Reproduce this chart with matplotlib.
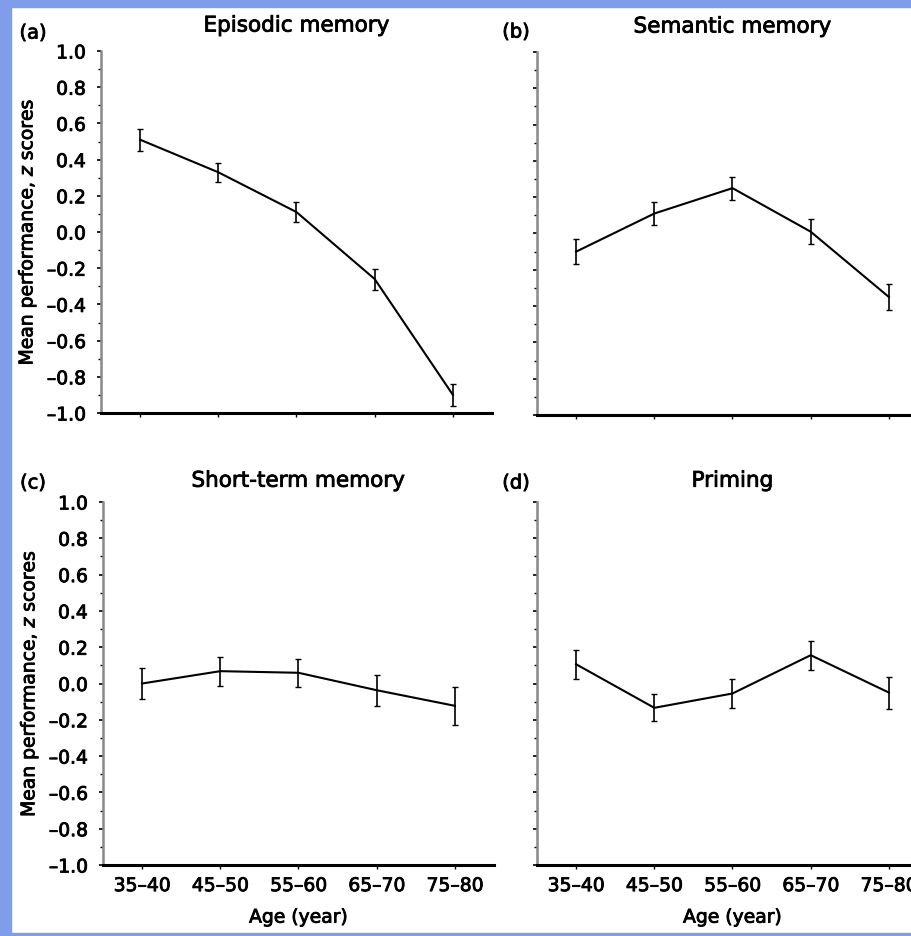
import matplotlib
matplotlib.use("Agg")
import matplotlib.pyplot as plt
import matplotlib.patheffects as pe
from matplotlib.patches import Rectangle
from matplotlib.ticker import MultipleLocator, FuncFormatter

age_groups = ["35–40", "45–50", "55–60", "65–70", "75–80"]

episodic_mean = [0.51, 0.33, 0.11, -0.26, -0.90]
episodic_err = [0.06, 0.053, 0.053, 0.058, 0.06]

semantic_mean = [-0.10, 0.11, 0.25, 0.01, -0.35]
semantic_err = [0.067, 0.062, 0.063, 0.07, 0.073]

shortterm_mean = [0.0, 0.068, 0.059, -0.037, -0.123]
shortterm_err = [0.083, 0.08, 0.078, 0.085, 0.105]

priming_mean = [0.106, -0.134, -0.055, 0.156, -0.05]
priming_err = [0.08, 0.075, 0.078, 0.08, 0.088]

panel_titles = ["Episodic memory", "Semantic memory", "Short-term memory", "Priming"]
panel_letters = ["(a)", "(b)", "(c)", "(d)"]

W, H = 912, 936
fig = plt.figure(figsize=(W / 100, H / 100), dpi=100)
fig.patch.set_facecolor("white")

thick = [pe.withStroke(linewidth=0.6, foreground="black")]

blue = "#7f9de8"
for (x, y, w, h) in [(0, 0, 11, H), (0, 0, W, 7), (0, H - 3, W, 3)]:
    fig.patches.append(Rectangle((x / W, 1 - (y + h) / H), w / W, h / H,
                                 transform=fig.transFigure, color=blue, zorder=-10))

def ax_rect(left, top, bottom, right_w=391):
    return [left / W, 1 - bottom / H, right_w / W, (bottom - top) / H]

rects = [ax_rect(101, 51, 413), ax_rect(537, 52, 415),
         ax_rect(103, 502, 865), ax_rect(537, 502, 865)]
datasets = [(episodic_mean, episodic_err), (semantic_mean, semantic_err),
            (shortterm_mean, shortterm_err), (priming_mean, priming_err)]

fmt = FuncFormatter(lambda v, p: f"{v:.1f}".replace("-", "–"))

for i, (rect, (m, e)) in enumerate(zip(rects, datasets)):
    ax = fig.add_axes(rect)
    x = list(range(len(age_groups)))
    ax.errorbar(x, m, yerr=e, color="black", lw=1.5, elinewidth=1.2,
                capsize=2.5, capthick=1.0)
    ax.set_xlim(-0.5, 4.5)
    ax.set_ylim(-1.0, 1.0)
    ax.spines["top"].set_visible(False)
    ax.spines["right"].set_visible(False)
    ax.spines["bottom"].set_linewidth(2.2)
    ax.spines["left"].set_linewidth(1.8)
    ax.spines["left"].set_color("#888888")
    ax.yaxis.set_major_locator(MultipleLocator(0.2))
    ax.yaxis.set_minor_locator(MultipleLocator(0.1))
    ax.yaxis.set_major_formatter(fmt)
    ax.tick_params(axis="y", which="major", length=3, width=1.2, labelsize=13.5, pad=8)
    ax.tick_params(axis="y", which="minor", length=2, width=1.0)
    ax.set_xticks(x)
    ax.tick_params(axis="x", length=3, width=1.0, labelsize=13.5, pad=5)
    if i < 2:
        ax.set_xticklabels([])
    else:
        ax.set_xticklabels(age_groups)
        ax.set_xlabel("Age (year)", fontsize=13.5, labelpad=9, path_effects=thick)
    if i % 2 == 1:
        ax.set_yticklabels([])
    else:
        ax.set_ylabel("Mean performance, $\\it{z}$ scores", fontsize=13.5, labelpad=6,
                      path_effects=thick)
    for lab in ax.get_xticklabels() + ax.get_yticklabels():
        lab.set_path_effects(thick)
    ax.set_title(panel_titles[i], fontsize=15.5, pad=14 if i < 2 else 11,
                 path_effects=thick)

# panel letters
letter_pos = [(33, 33), (516, 32), (33, 483), (516, 483)]
for (px, py), lab in zip(letter_pos, panel_letters):
    fig.text(px / W, 1 - py / H, lab, fontsize=14, ha="center", va="center",
             path_effects=thick)

fig.savefig("out.png", dpi=100, facecolor=fig.get_facecolor())
